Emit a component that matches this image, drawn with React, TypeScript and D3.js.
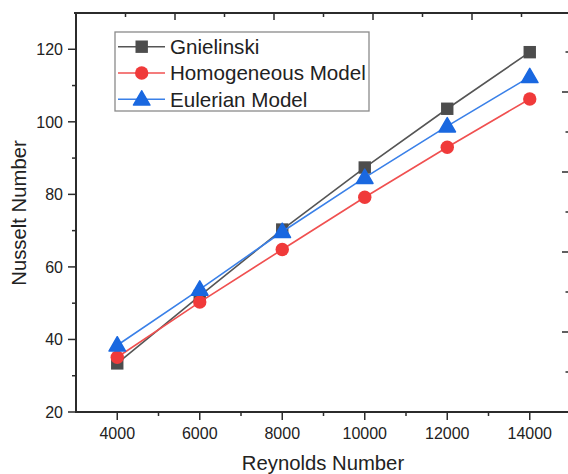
import React from "react";
import * as d3 from "d3";

const reynolds = [4000, 6000, 8000, 10000, 12000, 14000];
const gnielinski = [33.4, 52.0, 70.3, 87.4, 103.6, 119.2];
const homogeneous = [35.1, 50.3, 64.8, 79.2, 93.0, 106.3];
const eulerian = [38.4, 53.8, 69.7, 84.6, 98.8, 112.4];

const xTicks = [4000, 6000, 8000, 10000, 12000, 14000];
const yTicks = [20, 40, 60, 80, 100, 120];
const legendNames = ["Gnielinski", "Homogeneous Model", "Eulerian Model"];

const W = 568;
const H = 474;
const m = { left: 76, right: 571, top: 13, bottom: 412 };
const font = "'Liberation Sans', Arial, sans-serif";
const axisColor = "#2b2b2b";
const textColor = "#222";

const series = [
  { name: legendNames[0], values: gnielinski, color: "#4d4d4d", line: "#555", shape: "square" },
  { name: legendNames[1], values: homogeneous, color: "#f03a3a", line: "#f05050", shape: "circle" },
  { name: legendNames[2], values: eulerian, color: "#1a68e0", line: "#3a80e8", shape: "triangle" },
];

function Marker({ shape, x, y, color }) {
  if (shape === "square") {
    return <rect x={x - 6.2} y={y - 6.2} width={12.4} height={12.4} fill={color} />;
  }
  if (shape === "circle") {
    return <circle cx={x} cy={y} r={6.7} fill={color} />;
  }
  const sym = d3.symbol().type(d3.symbolTriangle).size(118)();
  return <path d={sym} transform={`translate(${x},${y + 1})`} fill={color} stroke={color} strokeWidth={1.5} strokeLinejoin="round" />;
}

export default function App() {
  const x = d3.scaleLinear().domain([3000, 15000]).range([m.left, m.right]);
  const y = d3.scaleLinear().domain([20, 130]).range([m.bottom, m.top]);
  // neighbouring panels' axes that are cropped into the picture
  const topScale = d3.scaleLinear().domain([0, 5]).range([m.left, m.right]);
  const rightScale = d3.scaleLinear().domain([0, 5]).range([m.bottom, m.top - 1]);

  const xMinor = d3.range(5000, 15000, 2000);
  const yMinor = d3.range(30, 130, 20);
  const topMajor = [1, 2, 3, 4];
  const topMinor = d3.range(0.5, 5, 1);
  const rightMajor = [1, 2, 3, 4];
  const rightMinor = d3.range(0.5, 5, 1);

  const line = d3
    .line<number>()
    .x((d, i) => x(reynolds[i]))
    .y((d) => y(d));

  const legX = 115;
  const legY = 32;
  const rowH = 26.3;

  return (
    <svg
      width={W}
      height={H}
      style={{ position: "absolute", left: 0, top: 0, background: "#fff" }}
      fontFamily={font}
    >
      {/* spines */}
      <line x1={m.left} x2={m.left} y1={m.top} y2={m.bottom + 1} stroke={axisColor} strokeWidth={2} />
      <line x1={m.left - 1} x2={W} y1={m.bottom} y2={m.bottom} stroke={axisColor} strokeWidth={2} />
      <line x1={m.left - 2} x2={W} y1={m.top} y2={m.top} stroke={axisColor} strokeWidth={2} />

      {/* top ticks */}
      {topMajor.map((t) => (
        <line key={"tM" + t} x1={topScale(t)} x2={topScale(t)} y1={m.top} y2={m.top + 7} stroke={axisColor} strokeWidth={1.5} />
      ))}
      {topMinor.map((t) => (
        <line key={"tm" + t} x1={topScale(t)} x2={topScale(t)} y1={m.top} y2={m.top + 4} stroke={axisColor} strokeWidth={1.5} />
      ))}

      {/* right ticks */}
      {rightMajor.map((t) => (
        <line key={"rM" + t} x1={W - 6} x2={W} y1={rightScale(t)} y2={rightScale(t)} stroke={axisColor} strokeWidth={1.5} />
      ))}
      {rightMinor.map((t) => (
        <line key={"rm" + t} x1={W - 2.5} x2={W} y1={rightScale(t)} y2={rightScale(t)} stroke={axisColor} strokeWidth={1.5} />
      ))}

      {/* x axis ticks */}
      {xTicks.map((t) => (
        <g key={"x" + t}>
          <line x1={x(t)} x2={x(t)} y1={m.bottom} y2={m.bottom + 8} stroke={axisColor} strokeWidth={1.5} />
          <text x={x(t)} y={439} textAnchor="middle" fontSize={16} fill={textColor}>
            {t}
          </text>
        </g>
      ))}
      {xMinor.map((t) => (
        <line key={"xm" + t} x1={x(t)} x2={x(t)} y1={m.bottom} y2={m.bottom + 4} stroke={axisColor} strokeWidth={1.5} />
      ))}

      {/* y axis ticks */}
      {yTicks.map((t) => (
        <g key={"y" + t}>
          <line x1={m.left - 8} x2={m.left} y1={y(t)} y2={y(t)} stroke={axisColor} strokeWidth={1.5} />
          <text x={63} y={y(t) + 5.8} textAnchor="end" fontSize={16} fill={textColor}>
            {t}
          </text>
        </g>
      ))}
      {yMinor.map((t) => (
        <line key={"ym" + t} x1={m.left - 4} x2={m.left} y1={y(t)} y2={y(t)} stroke={axisColor} strokeWidth={1.5} />
      ))}

      {/* axis titles */}
      <text x={323} y={470} textAnchor="middle" fontSize={20.3} fill={textColor}>
        Reynolds Number
      </text>
      <text
        transform={`translate(26,${213}) rotate(-90)`}
        textAnchor="middle"
        fontSize={20.3}
        fill={textColor}
      >
        Nusselt Number
      </text>

      {/* series */}
      {series.map((s) => (
        <g key={s.name}>
          <path d={line(s.values) || ""} fill="none" stroke={s.line} strokeWidth={1.6} />
          {s.values.map((v, i) => (
            <Marker key={i} shape={s.shape} x={x(reynolds[i])} y={y(v)} color={s.color} />
          ))}
        </g>
      ))}

      {/* legend */}
      <rect x={legX} y={legY} width={254} height={79} fill="#fff" stroke="#8a8a8a" strokeWidth={1.3} />
      {series.map((s, i) => {
        const cy = legY + 14.7 + i * rowH;
        return (
          <g key={"leg" + s.name}>
            <line x1={118} x2={165} y1={cy} y2={cy} stroke={s.line} strokeWidth={1.6} />
            <Marker shape={s.shape} x={141.7} y={cy} color={s.color} />
            <text x={170} y={cy + 7.2} fontSize={20.6} fill={textColor}>
              {s.name}
            </text>
          </g>
        );
      })}
    </svg>
  );
}
